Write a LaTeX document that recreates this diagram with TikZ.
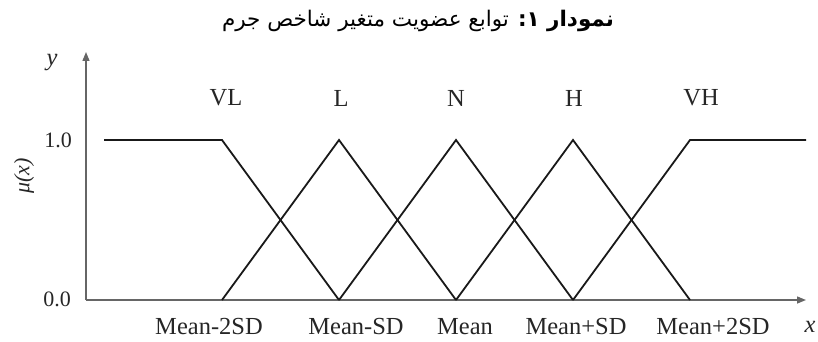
\documentclass[tikz,border=0pt]{standalone}
\usepackage{fontspec}
\setmainfont{Liberation Serif}
\newfontfamily\arabicfont[Script=Arabic]{DejaVu Sans}
\TeXXeTstate=1
\usetikzlibrary{arrows.meta}
\begin{document}
\begin{tikzpicture}[x=1pt,y=-1pt,
  axis/.style={draw=black!60,line width=1.4pt,-{Triangle[length=9pt,width=7pt]}},
  mf/.style={draw=black!90,line width=1.8pt,line join=miter},
  lbl/.style={font=\fontsize{24.5}{28}\selectfont,inner sep=0pt,text=black!85},
  tick/.style={font=\fontsize{22}{26}\selectfont,inner sep=0pt,text=black!85},
  ttl/.style={font=\arabicfont\fontsize{21.5}{26}\selectfont,inner sep=0pt}]
\useasboundingbox (0,0) rectangle (818,342);
% title
\node[ttl] (title) at (418,21) {\beginR\textbf{نمودار ۱:} توابع عضویت متغیر شاخص جرم\endR};
% axes
\coordinate (O) at (86,300);
\coordinate (ytop) at (86,52);
\coordinate (xend) at (806,300);
\draw[axis] (O) -- (ytop);
\draw[axis] (O) -- (xend);
% key points
\coordinate (l0) at (104,140);
\coordinate (a) at (222,140);
\coordinate (A) at (222,300);
\coordinate (b) at (339,140);
\coordinate (B) at (339,300);
\coordinate (c) at (456,140);
\coordinate (C) at (456,300);
\coordinate (d) at (573,140);
\coordinate (D) at (573,300);
\coordinate (e) at (690,140);
\coordinate (E) at (690,300);
\coordinate (r0) at (806,140);
% membership functions
\draw[mf] (l0) -- (a) -- (B);
\draw[mf] (A) -- (b) -- (C);
\draw[mf] (B) -- (c) -- (D);
\draw[mf] (C) -- (d) -- (E);
\draw[mf] (D) -- (e) -- (r0);
% labels
\node[lbl] (vl) at (226,98) {VL};
\node[lbl] (ll) at (341,98) {L};
\node[lbl] (nl) at (456,98) {N};
\node[lbl] (hl) at (574,98) {H};
\node[lbl] (vhl) at (701,98) {VH};
\node[tick] (t1) at (58,140) {1.0};
\node[tick] (t0) at (57,299) {0.0};
\node[lbl,font=\fontsize{24.5}{28}\selectfont\itshape] (ylab) at (52,63) {y};
\node[lbl,font=\fontsize{24.5}{28}\selectfont\itshape] (xlab) at (810,327) {x};
\node[tick,rotate=90,font=\fontsize{22}{26}\selectfont\itshape] (mu) at (24,176) {μ(x)};
\node[lbl] (m1) at (209,327) {Mean-2SD};
\node[lbl] (m2) at (356,327) {Mean-SD};
\node[lbl] (m3) at (465,327) {Mean};
\node[lbl] (m4) at (576,327) {Mean+SD};
\node[lbl] (m5) at (713,327) {Mean+2SD};
\end{tikzpicture}
\end{document}
